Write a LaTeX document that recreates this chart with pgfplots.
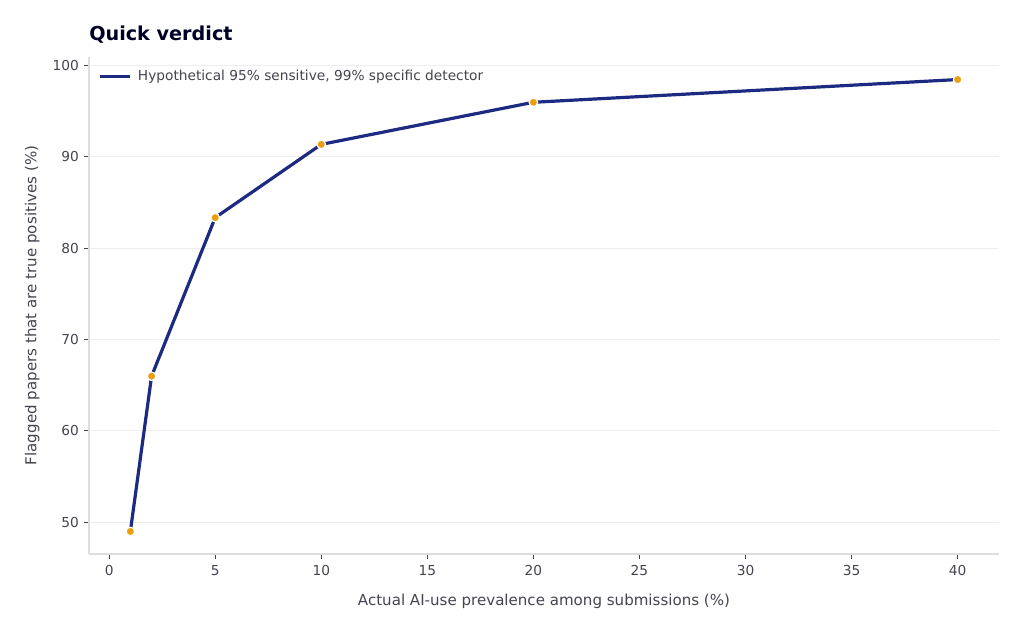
\documentclass[border=0pt]{standalone}
\usepackage{fontspec}
\setmainfont{DejaVu Sans}
\usepackage{pgfplots}
\pgfplotsset{compat=1.18}
\definecolor{navy}{HTML}{1C2A82}
\definecolor{amber}{HTML}{E89F10}
\definecolor{txt}{HTML}{444450}
\definecolor{spine}{HTML}{DDDDDD}
\definecolor{gridc}{HTML}{EEEEEE}
\begin{document}
\begin{tikzpicture}
    % canvas 1024x631 px at 0.75pt per px
    \path (0,0) rectangle (768pt,473.25pt);
    \node[anchor=base west, font=\bfseries\fontsize{14.4}{16}\selectfont, text=black!85!blue, inner sep=0pt]
        at (66.75pt,443pt) {Quick verdict};
    \begin{axis}[
        at={(66.75pt,57.75pt)}, anchor=south west,
        scale only axis,
        width=682.5pt, height=372.75pt,
        xmin=-0.95, xmax=41.95,
        ymin=46.5, ymax=100.92,
        xtick={0,5,...,40},
        ytick={50,60,...,100},
        axis x line*=bottom, axis y line*=left,
        axis line style={spine, line width=0.8pt},
        x axis line style={-}, y axis line style={-},
        tick align=outside, tick pos=left,
        major tick length=3.5pt,
        tick style={txt, line width=0.6pt},
        ymajorgrids, grid style={gridc, line width=0.6pt},
        ticklabel style={font=\fontsize{10.3}{12}\selectfont, text=txt},
        xticklabel style={yshift=-1.5pt},
        yticklabel style={xshift=-0.5pt},
        /pgf/number format/assume math mode=true,
        xlabel={Actual AI-use prevalence among submissions (\%)},
        ylabel={Flagged papers that are true positives (\%)},
        label style={font=\fontsize{11.3}{13}\selectfont, text=txt},
        xlabel style={yshift=-6.5pt},
        ylabel style={yshift=3pt},
        legend style={at={(0.006,0.985)}, anchor=north west, draw=none, fill=none,
            font=\fontsize{10.3}{12}\selectfont, text=txt},
        legend cell align=left,
        legend image code/.code={
            \draw[navy, line width=2.4pt] (0pt,0pt) -- (22pt,0pt);},
    ]
    \addplot[navy, line width=2.4pt, mark=*, mark size=3.2pt,
        mark options={fill=amber, draw=white, line width=0.9pt}]
        coordinates {
        (1,48.97) (2,65.97) (5,83.33) (10,91.35) (20,95.96) (40,98.45)
    };
    \addlegendentry{\kern3pt Hypothetical 95\% sensitive, 99\% specific detector}
    \end{axis}
\end{tikzpicture}
\end{document}
